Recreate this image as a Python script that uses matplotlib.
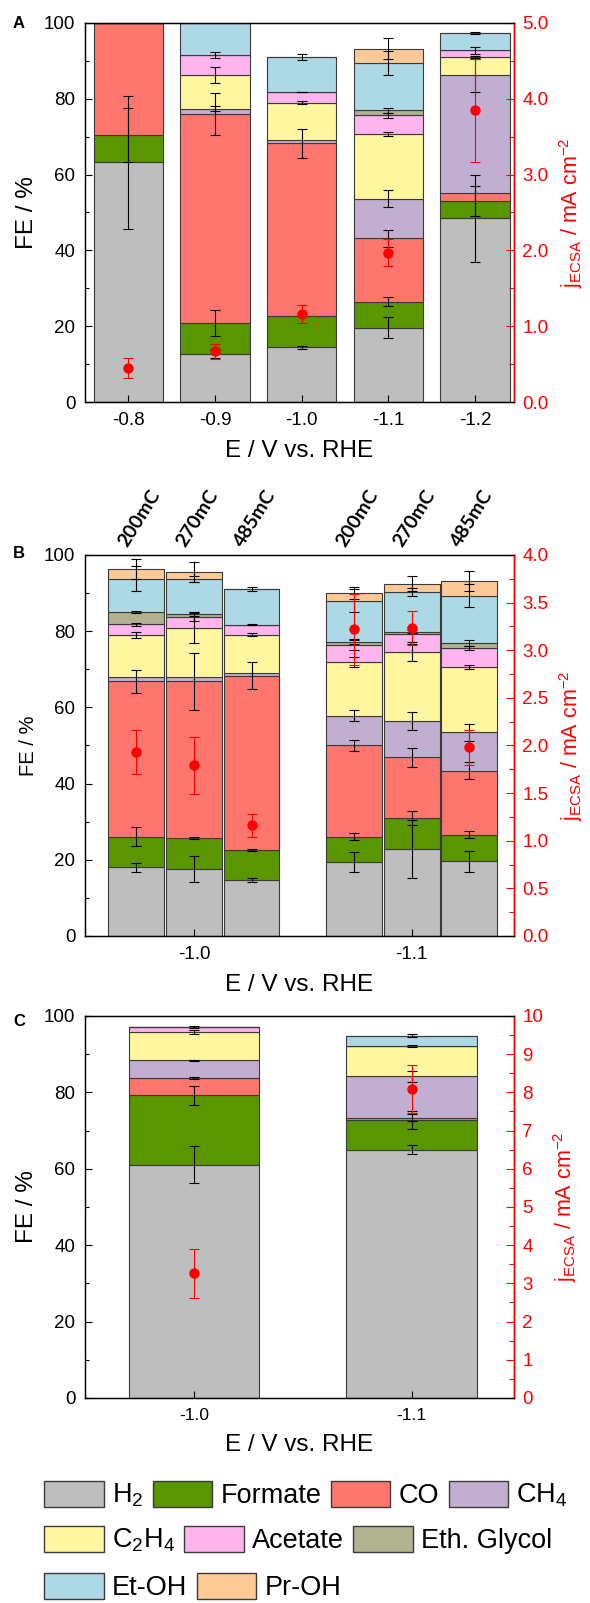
import numpy as np
import matplotlib.pyplot as plt
from matplotlib.patches import Patch
from matplotlib.ticker import MultipleLocator, FormatStrFormatter

plt.rcParams['font.family'] = ['Liberation Sans', 'DejaVu Sans']
plt.rcParams['mathtext.fontset'] = 'custom'
plt.rcParams['mathtext.rm'] = 'Liberation Sans'
plt.rcParams['mathtext.it'] = 'Liberation Sans:italic'
plt.rcParams['mathtext.bf'] = 'Liberation Sans:bold'

species = ['H$_2$', 'Formate', 'CO', 'CH$_4$', 'C$_2$H$_4$', 'Acetate',
           'Eth. Glycol', 'Et-OH', 'Pr-OH']
colors = ['#bebebe', '#5a9600', '#ff766e', '#c1aed1', '#fff6a0', '#ffb4ee',
          '#b1b28f', '#add8e6', '#ffca96']

# panel A: potential series
pot_a = ['-0.8', '-0.9', '-1.0', '-1.1', '-1.2']
# rows follow species order, columns follow pot_a
fe_a = [[63.2, 12.8, 14.4, 19.6, 48.5],
        [7.2, 8.1, 8.2, 6.8, 4.5],
        [29.6, 55.0, 45.7, 16.8, 2.2],
        [0.0, 1.5, 0.8, 10.4, 31.0],
        [0.0, 8.9, 9.8, 17.1, 4.8],
        [0.0, 5.2, 2.9, 4.9, 1.8],
        [0.0, 0.0, 0.0, 1.3, 0.0],
        [0.0, 8.5, 9.2, 12.5, 4.6],
        [0.0, 0.0, 0.0, 3.8, 0.0]]
err_a = [[17.6, 1.2, 0.5, 2.8, 11.5],
         [7.1, 3.5, 0.0, 1.2, 4.0],
         [0.0, 5.5, 3.8, 2.2, 0.0],
         [0.0, 0.7, 0.0, 2.2, 4.3],
         [0.0, 2.2, 0.4, 0.6, 0.3],
         [0.0, 0.7, 0.1, 0.6, 0.9],
         [0.0, 0.0, 0.0, 0.7, 0.0],
         [0.0, 0.0, 0.8, 3.1, 0.3],
         [0.0, 0.0, 0.0, 2.8, 0.0]]
j_a = [0.45, 0.67, 1.16, 1.97, 3.85]
jerr_a = [0.13, 0.10, 0.12, 0.18, 0.68]

# panel B: deposition charge at -1.0 and -1.1 V
pot_b = ['-1.0', '-1.1']
charge_b = ['200mC', '270mC', '485mC']
fe_b = [[18.0, 17.6, 14.6, 19.4, 22.8, 19.6],
        [8.1, 8.1, 8.0, 6.7, 8.1, 7.0],
        [40.7, 41.1, 45.7, 23.9, 16.0, 16.8],
        [1.1, 1.1, 0.7, 7.8, 9.6, 10.1],
        [11.1, 13.0, 10.0, 14.1, 18.0, 17.2],
        [2.8, 2.8, 2.7, 4.6, 4.7, 4.8],
        [3.3, 0.9, 0.0, 0.6, 0.7, 1.3],
        [8.7, 9.2, 9.4, 10.9, 10.3, 12.5],
        [2.6, 1.7, 0.0, 2.1, 2.3, 3.9]]
err_b = [[1.2, 3.5, 0.5, 2.6, 7.6, 2.8],
         [2.4, 0.3, 0.3, 0.9, 1.9, 1.0],
         [3.0, 7.6, 3.5, 1.5, 2.5, 2.2],
         [0.0, 0.0, 0.0, 1.4, 2.4, 2.2],
         [0.8, 4.0, 0.4, 1.2, 2.2, 0.5],
         [0.4, 1.0, 0.2, 1.5, 2.0, 0.5],
         [0.3, 0.5, 0.0, 0.5, 0.3, 0.8],
         [3.2, 0.8, 0.6, 3.0, 1.0, 3.0],
         [2.6, 2.6, 0.0, 1.6, 2.0, 2.6]]
j_b = [1.93, 1.79, 1.16, 3.22, 3.23, 1.98]
jerr_b = [0.23, 0.30, 0.12, 0.37, 0.18, 0.18]

# panel C
pot_c = ['-1.0', '-1.1']
fe_c = [[61.1, 65.0],
        [18.1, 7.7],
        [4.6, 0.7],
        [4.6, 10.8],
        [7.4, 8.0],
        [1.4, 0.0],
        [0.0, 0.0],
        [0.0, 2.6],
        [0.0, 0.0]]
err_c = [[4.9, 1.2],
         [2.6, 2.4],
         [0.3, 1.0],
         [0.1, 1.5],
         [0.6, 0.2],
         [0.3, 0.0],
         [0.0, 0.0],
         [0.0, 0.4],
         [0.0, 0.0]]
j_c = [3.26, 8.09]
jerr_c = [0.63, 0.63]

TICK = 13.5
LAB = 17.5
EDGE = '#3a3a3a'


def stacked(ax, x, fe, err, width):
    bottom = np.zeros(len(x))
    for vals, e, c in zip(fe, err, colors):
        vals = np.array(vals)
        e = np.array(e)
        ax.bar(x, vals, width, bottom=bottom, color=c, edgecolor=EDGE,
               linewidth=0.8, zorder=1)
        top = bottom + vals
        m = (vals > 0) & (e > 0)
        ax.errorbar(x[m], top[m], yerr=e[m], fmt='none', ecolor='black',
                    elinewidth=0.8, capsize=3.5, capthick=0.8, zorder=3)
        bottom = top


def style(ax, ax2, jmax, jstep, jminor, jfmt, felab=LAB):
    ax.set_ylim(0, 100)
    ax.yaxis.set_major_locator(MultipleLocator(20))
    ax.yaxis.set_minor_locator(MultipleLocator(10))
    ax.tick_params(axis='y', which='major', direction='in', length=5,
                   width=0.8, labelsize=TICK, pad=7)
    ax.tick_params(axis='y', which='minor', direction='in', length=3, width=0.8)
    ax.tick_params(axis='x', direction='in', length=5, width=0.8,
                   labelsize=TICK, pad=7)
    ax.set_ylabel('FE / %', fontsize=felab, labelpad=4)
    ax.set_xlabel('E / V vs. RHE', fontsize=LAB, labelpad=8)
    for s in ax.spines.values():
        s.set_linewidth(1.0)
    ax2.set_ylim(0, jmax)
    ax2.yaxis.set_major_locator(MultipleLocator(jstep))
    ax2.yaxis.set_minor_locator(MultipleLocator(jminor))
    ax2.yaxis.set_major_formatter(FormatStrFormatter(jfmt))
    ax2.tick_params(axis='y', which='major', direction='in', length=6,
                    width=0.8, colors='red', labelsize=TICK, pad=6)
    ax2.tick_params(axis='y', which='minor', direction='in', length=3.5,
                    width=0.8, colors='red')
    ax2.spines['right'].set_color('red')
    ax2.spines['right'].set_linewidth(1.0)
    ax2.set_ylabel(r'$\mathrm{j}_{\mathrm{ECSA}}$ / mA cm$^{-2}$',
                   fontsize=15.5, color='red', labelpad=6)


def jpoints(ax2, x, j, jerr):
    ax2.errorbar(x, j, yerr=jerr, fmt='o', color='red', ms=6.5,
                 elinewidth=0.8, capsize=3.5, capthick=0.8, zorder=5)


fig = plt.figure(figsize=(5.9, 16.03), dpi=100)
L, W = 85 / 590, 429 / 590

# A
axA = fig.add_axes([L, 0.7492, W, 0.2365])
xa = np.arange(len(pot_a))
stacked(axA, xa, fe_a, err_a, 0.8)
axA.set_xlim(-0.5, 4.45)
axA.set_xticks(xa)
axA.set_xticklabels(pot_a)
axA2 = axA.twinx()
jpoints(axA2, xa, j_a, jerr_a)
style(axA, axA2, 5.0, 1.0, 0.5, '%.1f')

# B
axB = fig.add_axes([L, 0.4161, W, 0.2377])
offs = np.array([-0.265, 0.0, 0.265])
xb = np.concatenate([g + offs for g in range(len(pot_b))])
stacked(axB, xb, fe_b, err_b, 0.256)
axB.set_xlim(-0.5, 1.47)
axB.set_xticks(range(len(pot_b)))
axB.set_xticklabels(pot_b)
axB2 = axB.twinx()
jpoints(axB2, xb, j_b, jerr_b)
style(axB, axB2, 4.0, 0.5, 0.25, '%.1f', felab=14.5)
for xi, lab in zip(xb, charge_b * len(pot_b)):
    axB.text(xi - 0.03, 101.5, lab, rotation=58, rotation_mode='anchor',
             ha='left', va='bottom', fontsize=14, fontweight='bold',
             family=['Lato', 'DejaVu Sans'], clip_on=False)

# C
axC = fig.add_axes([L, 0.1279, W, 0.2383])
xc = np.arange(len(pot_c))
stacked(axC, xc, fe_c, err_c, 0.6)
axC.set_xlim(-0.5, 1.47)
axC.set_xticks(xc)
axC.set_xticklabels(pot_c)
axC2 = axC.twinx()
jpoints(axC2, xc, j_c, jerr_c)
style(axC, axC2, 10, 1, 0.5, '%d')
axC.tick_params(axis='x', labelsize=12.5)

for lab, yp in zip(['A', 'B', 'C'], [23, 553, 1022]):
    fig.text(19 / 590, 1 - yp / 1603, lab, fontsize=12, fontweight='bold',
             ha='center', va='center')

# legend in three rows
handles = [Patch(facecolor=c, edgecolor=EDGE, linewidth=1.0) for c in colors]
rows = [(0, 4, 1495), (4, 7, 1540), (7, 9, 1587)]
for a, b, yp in rows:
    fig.legend(handles[a:b], species[a:b], loc='center left',
               bbox_to_anchor=(44 / 590, 1 - yp / 1603), ncol=b - a,
               frameon=False, fontsize=19.5, handlelength=2.2,
               handleheight=1.1, handletextpad=0.3, columnspacing=0.35,
               borderpad=0, borderaxespad=0)

fig.savefig('out.png', dpi=100)
